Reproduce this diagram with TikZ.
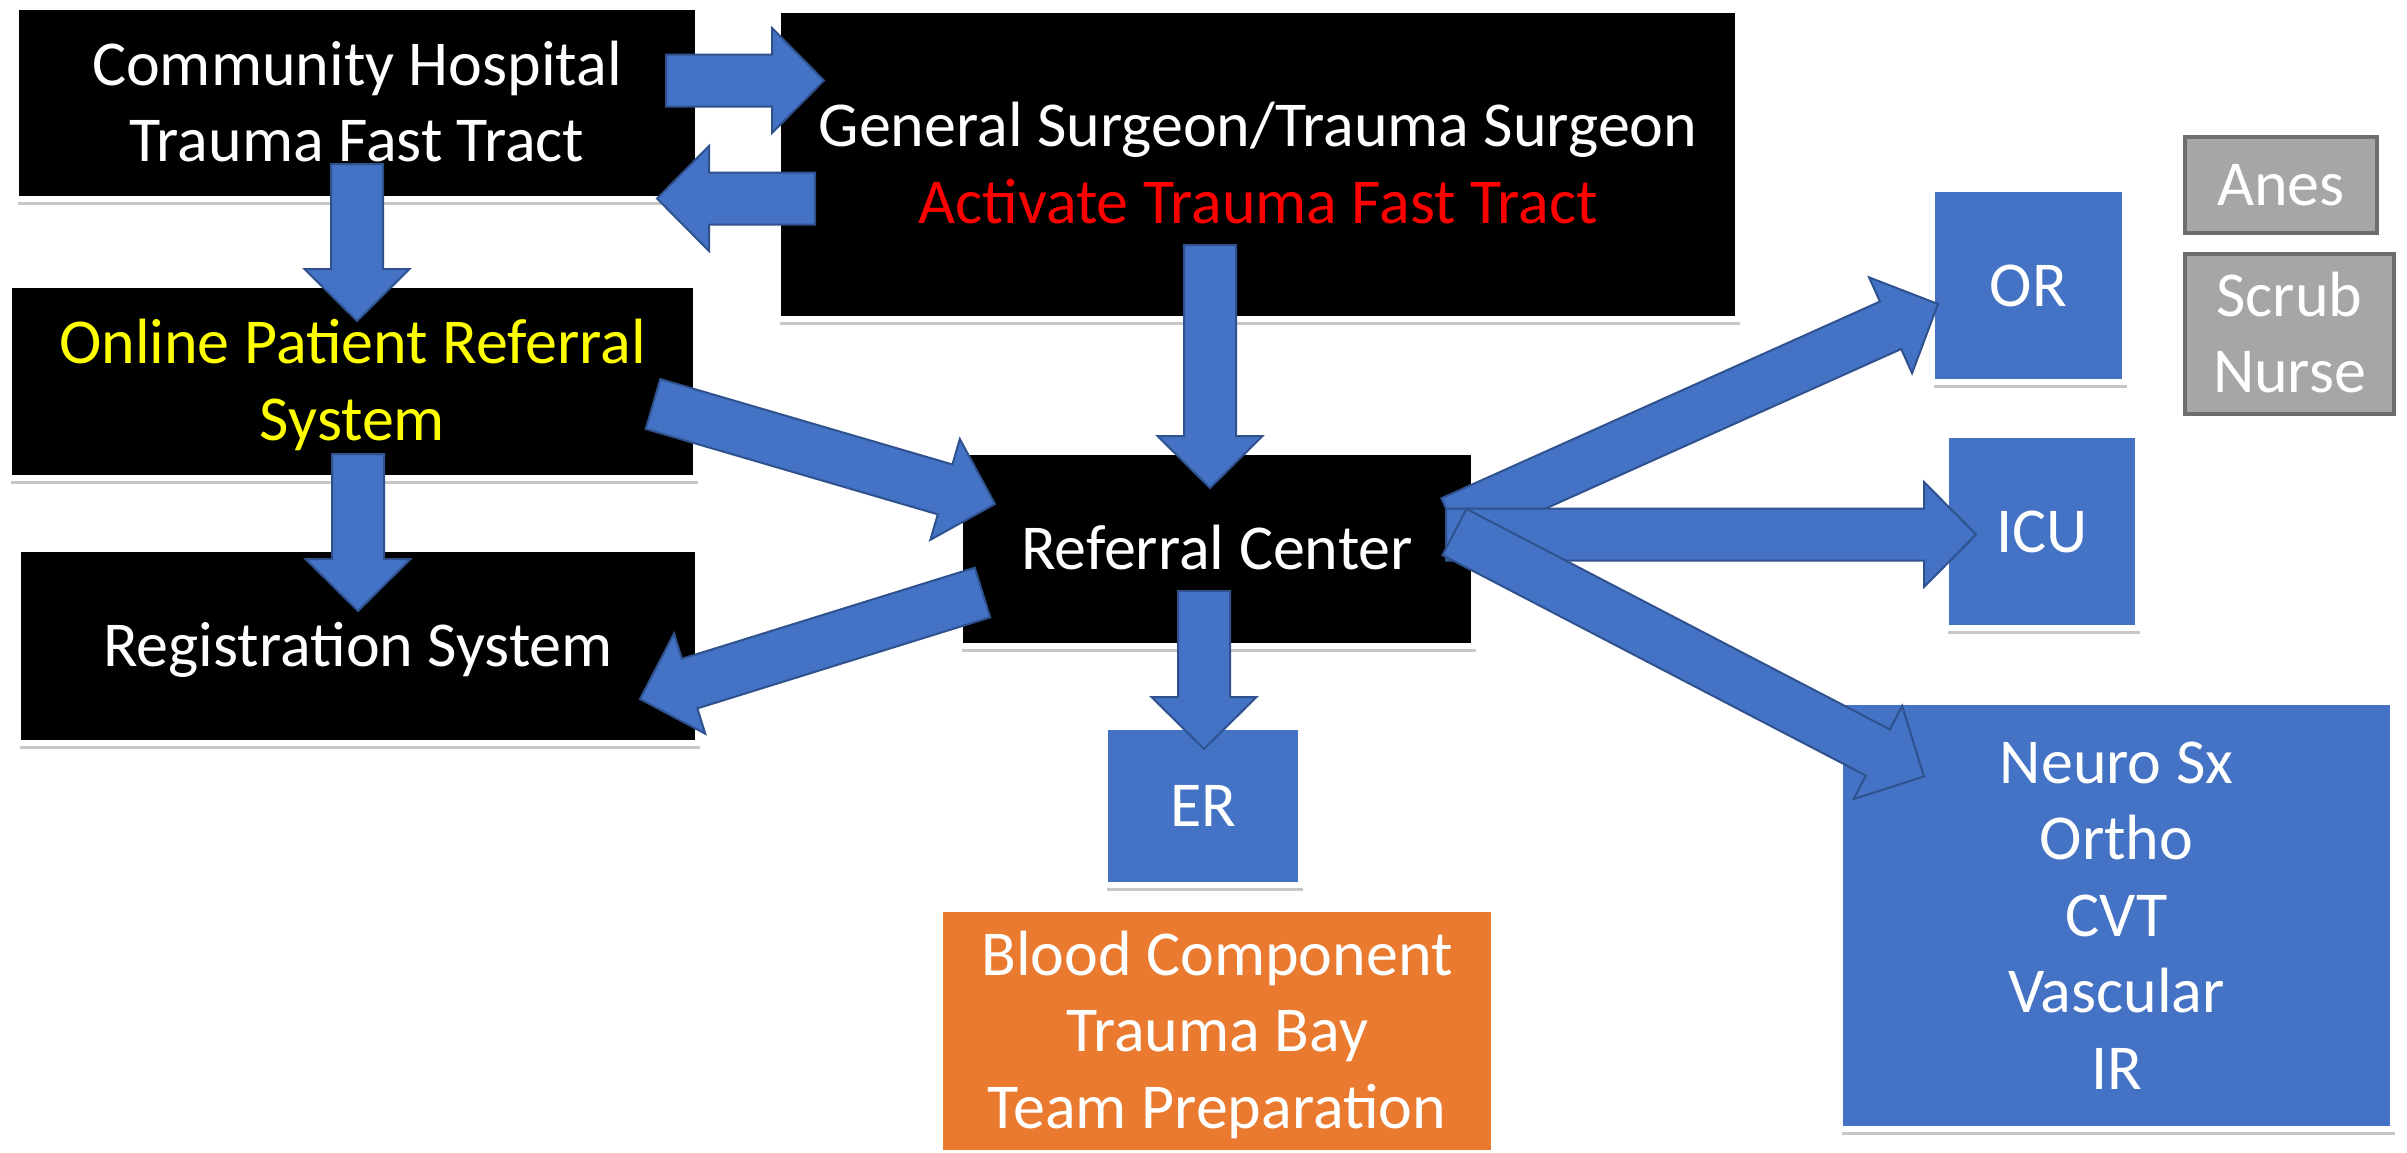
\documentclass[tikz,border=0pt]{standalone}
\usepackage{fontspec}
\setmainfont{Carlito}
\usetikzlibrary{calc,shadows}
\definecolor{boxblue}{HTML}{4472C4}
\definecolor{arrowline}{HTML}{2F528F}
\definecolor{boxorange}{HTML}{E97A30}
\definecolor{boxgray}{HTML}{A6A6A6}
\definecolor{graybord}{HTML}{6E6E6E}
\definecolor{redtext}{HTML}{FF0000}
\definecolor{yellowtext}{HTML}{FFFF00}
\newcommand\blockarr[2]{%
  \coordinate (#1-b) at ($(#2)!52pt!(#1)$);
  \draw[blockarrow] ($(#1)!26pt!90:(#2)$) -- ($(#1-b)!26pt!90:(#2)$) -- ($(#1-b)!52.5pt!90:(#2)$) -- (#2)
     -- ($(#1-b)!52.5pt!-90:(#2)$) -- ($(#1-b)!26pt!-90:(#2)$) -- ($(#1)!26pt!-90:(#2)$) -- cycle;}
\tikzset{
  basebox/.style={rectangle, inner sep=0pt, font=\fontsize{64}{76.5}\selectfont, text=white, text height=41pt, text depth=0pt},
  lines2/.style={align=center, text height=117.5pt, text depth=0pt},
  lines3/.style={align=center, text height=194pt, text depth=0pt},
  lines5/.style={align=center, text height=347pt, text depth=0pt},
  shadowed/.style={draw=white, line width=6pt, drop shadow={shadow xshift=2pt, shadow yshift=-6pt, opacity=.22, fill=black}},
  blackbox/.style={basebox, shadowed, fill=black},
  bluebox/.style={basebox, shadowed, fill=boxblue},
  orangebox/.style={basebox, shadowed, fill=boxorange},
  graybox/.style={basebox, fill=boxgray, draw=graybord, line width=4pt},
  blockarrow/.style={fill=boxblue, draw=arrowline, line width=2pt, line join=miter}
}
\begin{document}
\begin{tikzpicture}[x=1pt, y=-1pt]
\useasboundingbox (0,0) rectangle (2407,1152);
\fill[white] (0,0) rectangle (2407,1152);
% boxes
\node[blackbox, lines2, minimum width=682pt, minimum height=192pt] (ch) at (357,103) {Community Hospital\\Trauma Fast Tract};
\node[blackbox, lines2, minimum width=960pt, minimum height=309pt] (gs) at (1258,164.5) {General Surgeon/Trauma Surgeon\\\textcolor{redtext}{Activate Trauma Fast Tract}};
\node[blackbox, lines2, minimum width=687pt, minimum height=193pt, text=yellowtext] (op) at (352.5,381.5) {Online Patient Referral\\System};
\node[blackbox, minimum width=680pt, minimum height=194pt] (reg) at (358,646) {Registration System};
\node[blackbox, minimum width=514pt, minimum height=194pt] (rc) at (1217,549) {Referral Center};
\node[bluebox, minimum width=196pt, minimum height=158pt] (er) at (1203,806) {ER};
\node[orangebox, lines3, minimum width=554pt, minimum height=244pt] (blood) at (1217,1031) {Blood Component\\Trauma Bay\\Team Preparation};
\node[bluebox, minimum width=193pt, minimum height=193pt] (or) at (2028.5,285.5) {OR};
\node[bluebox, minimum width=192pt, minimum height=193pt] (icu) at (2042,531.5) {ICU};
\node[bluebox, lines5, minimum width=553pt, minimum height=427pt] (neuro) at (2116.5,915.5) {Neuro Sx\\Ortho\\CVT\\Vascular\\IR};
\node[graybox, minimum width=192pt, minimum height=96pt] (anes) at (2281,185) {Anes};
\node[graybox, lines2, minimum width=209pt, minimum height=160pt] (scrub) at (2289.5,334) {Scrub\\Nurse};
% arrow end points
\coordinate (t1) at (666,80.5);    \coordinate (h1) at (824,80.5);
\coordinate (t2) at (815,198.5);   \coordinate (h2) at (657,198.5);
\coordinate (t3) at (357,164);     \coordinate (h3) at (357,321);
\coordinate (t4) at (358,454);     \coordinate (h4) at (358,611);
\coordinate (t5) at (1210,245);    \coordinate (h5) at (1210,488);
\coordinate (t6) at (1204,591);    \coordinate (h6) at (1204,749);
\coordinate (t7) at (653,404);     \coordinate (h7) at (995,504);
\coordinate (t8) at (982.5,592.5); \coordinate (h8) at (640,699);
\coordinate (t9) at (1452,522);    \coordinate (h9) at (1938,304);
\coordinate (t10) at (1446,534.5); \coordinate (h10) at (1976,534.5);
\coordinate (t11) at (1454.5,532); \coordinate (h11) at (1924,776.5);
% arrows
\blockarr{t1}{h1}
\blockarr{t2}{h2}
\blockarr{t3}{h3}
\blockarr{t4}{h4}
\blockarr{t5}{h5}
\blockarr{t6}{h6}
\blockarr{t7}{h7}
\blockarr{t8}{h8}
\blockarr{t9}{h9}
\blockarr{t10}{h10}
\blockarr{t11}{h11}
\end{tikzpicture}
\end{document}
